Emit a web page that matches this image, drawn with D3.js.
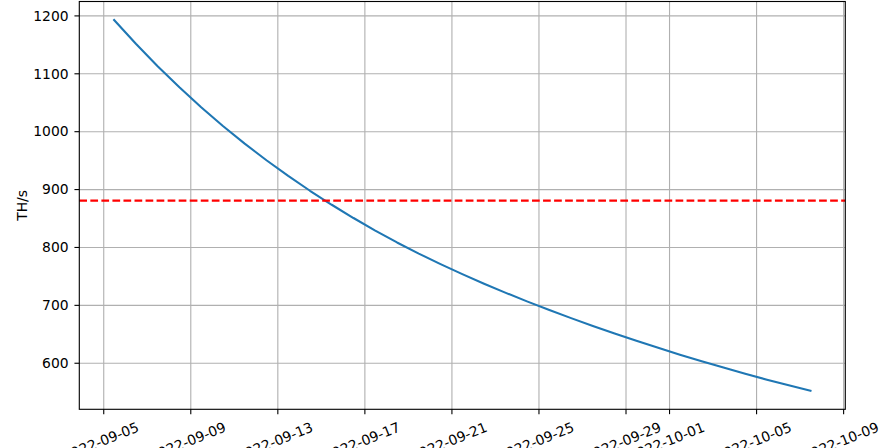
<!DOCTYPE html>
<html>
<head>
<meta charset="utf-8">
<script src="https://cdn.jsdelivr.net/npm/d3@7"></script>
<style>
  html, body { margin: 0; padding: 0; background: #ffffff; }
  svg { display: block; }
  text { font-family: "DejaVu Sans", sans-serif; }
</style>
</head>
<body>
<svg id="chart" width="889" height="448"></svg>
<script>
// ---------------- data ----------------
const dates = [
  "2022-09-05T12:00", "2022-09-06T12:00", "2022-09-07T12:00", "2022-09-08T12:00",
  "2022-09-09T12:00", "2022-09-10T12:00", "2022-09-11T12:00", "2022-09-12T12:00",
  "2022-09-13T12:00", "2022-09-14T12:00", "2022-09-15T12:00", "2022-09-16T12:00",
  "2022-09-17T12:00", "2022-09-18T12:00", "2022-09-19T12:00", "2022-09-20T12:00",
  "2022-09-21T12:00", "2022-09-22T12:00", "2022-09-23T12:00", "2022-09-24T12:00",
  "2022-09-25T12:00", "2022-09-26T12:00", "2022-09-27T12:00", "2022-09-28T12:00",
  "2022-09-29T12:00", "2022-09-30T12:00", "2022-10-01T12:00", "2022-10-02T12:00",
  "2022-10-03T12:00", "2022-10-04T12:00", "2022-10-05T12:00", "2022-10-06T12:00",
  "2022-10-07T12:00"
];
const hashrate = [
  1192.0, 1151.0, 1112.3, 1075.8, 1041.4, 1009.0, 978.5, 949.8,
  922.7, 897.1, 872.9, 850.0, 828.3, 807.8, 788.5, 770.3,
  753.0, 736.5, 720.7, 705.6, 691.1, 677.1, 663.6, 650.6,
  638.0, 625.8, 614.0, 602.6, 591.6, 581.0, 570.8, 561.0,
  551.6
];
const thresholdValue = 880;
const xTickLabels = [
  "2022-09-05", "2022-09-09", "2022-09-13", "2022-09-17", "2022-09-21",
  "2022-09-25", "2022-09-29", "2022-10-01", "2022-10-05", "2022-10-09"
];
const yTickValues = [600, 700, 800, 900, 1000, 1100, 1200];
const yAxisLabel = "TH/s";

// ---------------- layout / style ----------------
const PT = 100 / 72;               // px per point (dpi 100)
const fontSize = 10 * PT;          // 13.89px
const tickLen = 3.5 * PT;
const tickPad = 3.5 * PT;
const thinW = 0.8 * PT;
const lineW = 1.5 * PT;
const rot = 22;                    // x tick label rotation (deg)

const box = { left: 79.3, right: 845.3, top: 1.5, bottom: 409.3 };

const parse = d3.timeParse("%Y-%m-%dT%H:%M");
const parseDay = d3.timeParse("%Y-%m-%d");
const pts = dates.map((d, i) => ({ t: parse(d), v: hashrate[i] }));

// matplotlib-like 5% margins
const [t0, t1] = d3.extent(pts, d => +d.t);
const tPad = (t1 - t0) * 0.05;
const x = d3.scaleTime()
  .domain([new Date(t0 - tPad), new Date(t1 + tPad)])
  .range([box.left, box.right]);

const [v0, v1] = d3.extent(pts, d => d.v);
const vPad = (v1 - v0) * 0.05;
const y = d3.scaleLinear()
  .domain([v0 - vPad, v1 + vPad])
  .range([box.bottom, box.top]);

const svg = d3.select("#chart");
svg.append("rect").attr("width", 889).attr("height", 448).attr("fill", "#ffffff");

const xTickDates = xTickLabels.map(parseDay);

// ---------------- grid ----------------
const gridX = svg.append("g")
  .attr("transform", `translate(0,${box.bottom})`)
  .call(d3.axisBottom(x).tickValues(xTickDates).tickSize(-(box.bottom - box.top)).tickFormat(""));
gridX.select(".domain").remove();
gridX.selectAll("line").attr("stroke", "#b0b0b0").attr("stroke-width", thinW);

const gridY = svg.append("g")
  .attr("transform", `translate(${box.left},0)`)
  .call(d3.axisLeft(y).tickValues(yTickValues).tickSize(-(box.right - box.left)).tickFormat(""));
gridY.select(".domain").remove();
gridY.selectAll("line").attr("stroke", "#b0b0b0").attr("stroke-width", thinW);

// ---------------- data line ----------------
svg.append("path")
  .datum(pts)
  .attr("fill", "none")
  .attr("stroke", "#1f77b4")
  .attr("stroke-width", lineW)
  .attr("stroke-linejoin", "round")
  .attr("stroke-linecap", "square")
  .attr("d", d3.line().x(d => x(d.t)).y(d => y(d.v)));

// threshold line
svg.append("line")
  .attr("x1", box.left).attr("x2", box.right)
  .attr("y1", y(thresholdValue)).attr("y2", y(thresholdValue))
  .attr("stroke", "#ff0000")
  .attr("stroke-width", lineW)
  .attr("stroke-dasharray", `${3.7 * 1.5 * PT} ${1.6 * 1.5 * PT}`);

// ---------------- axes ----------------
const xAxis = svg.append("g")
  .attr("transform", `translate(0,${box.bottom})`)
  .call(d3.axisBottom(x).tickValues(xTickDates).tickSize(tickLen).tickPadding(tickPad)
    .tickFormat(d3.timeFormat("%Y-%m-%d")));
xAxis.select(".domain").remove();
xAxis.selectAll("line").attr("stroke", "#000").attr("stroke-width", thinW);
const sinR = Math.sin(rot * Math.PI / 180), cosR = Math.cos(rot * Math.PI / 180);
xAxis.selectAll("text")
  .attr("font-size", fontSize)
  .attr("font-family", "DejaVu Sans, sans-serif")
  .attr("fill", "#000")
  .attr("text-anchor", "middle")
  .attr("y", null)
  .attr("dy", "0.346em")
  .each(function () {
    const L = this.getComputedTextLength();
    const Ht = 1.164 * fontSize;
    const bh = L * sinR + Ht * cosR;
    const cy = tickLen + tickPad + bh / 2;
    d3.select(this).attr("transform", `translate(-3,${cy}) rotate(${-rot})`);
  });

const yAxis = svg.append("g")
  .attr("transform", `translate(${box.left},0)`)
  .call(d3.axisLeft(y).tickValues(yTickValues).tickSize(tickLen).tickPadding(tickPad + 1)
    .tickFormat(d3.format("d")));
yAxis.select(".domain").remove();
yAxis.selectAll("line").attr("stroke", "#000").attr("stroke-width", thinW);
yAxis.selectAll("text")
  .attr("font-size", fontSize)
  .attr("font-family", "DejaVu Sans, sans-serif")
  .attr("fill", "#000")
  .attr("dy", "0.34em");

// spines
svg.append("rect")
  .attr("x", box.left).attr("y", box.top)
  .attr("width", box.right - box.left).attr("height", box.bottom - box.top)
  .attr("fill", "none").attr("stroke", "#000").attr("stroke-width", thinW);

// y label
svg.append("text")
  .attr("transform", `translate(26.7,${(box.top + box.bottom) / 2}) rotate(-90)`)
  .attr("text-anchor", "middle")
  .attr("font-size", fontSize)
  .attr("fill", "#000")
  .text(yAxisLabel);
</script>
</body>
</html>
